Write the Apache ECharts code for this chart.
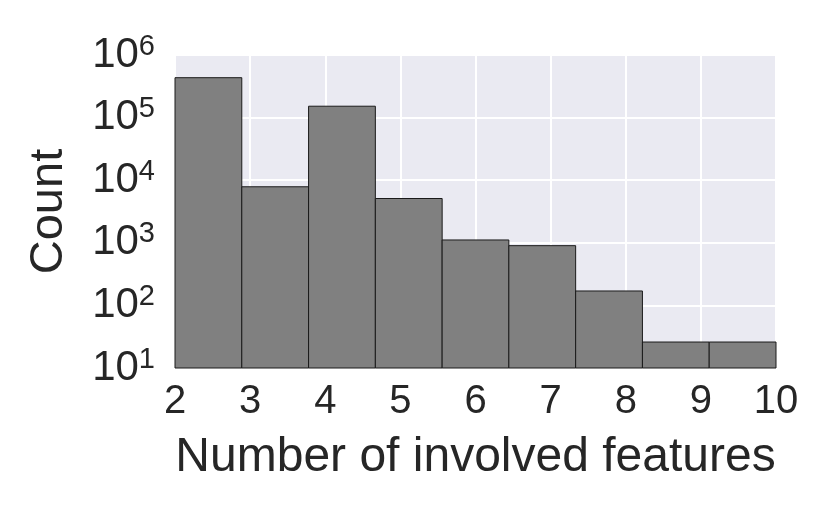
<!DOCTYPE html>
<html>
<head>
<meta charset="utf-8">
<script src="https://cdn.jsdelivr.net/npm/echarts@6/dist/echarts.min.js"></script>
<style>
  html, body { margin: 0; padding: 0; background: #fff; }
  #main { width: 830px; height: 513px; }
</style>
</head>
<body>
<div id="main"></div>
<script>
// histogram bins (9 bins between 2 and 10)
var binEdges = [2, 2.889, 3.778, 4.667, 5.556, 6.444, 7.333, 8.222, 9.111, 10];
var counts = [434000, 7850, 152000, 5100, 1110, 900, 170, 26, 26];
var xTicks = [2, 3, 4, 5, 6, 7, 8, 9, 10];
var yTicks = [10, 100, 1000, 10000, 100000, 1000000];

var textColor = "#262626";
var bars = counts.map(function (c, i) {
  return [binEdges[i], binEdges[i + 1], c];
});

var myChart = echarts.init(document.getElementById("main"));
myChart.setOption({
  animation: false,
  grid: { left: 175, right: 54, top: 55, bottom: 145, show: true, backgroundColor: "#EAEAF2", borderWidth: 0 },
  xAxis: {
    type: "value",
    min: xTicks[0],
    max: xTicks[xTicks.length - 1],
    interval: 1,
    name: "Number of involved features",
    nameLocation: "middle",
    nameGap: 66,
    nameTextStyle: { fontSize: 48, color: textColor, fontFamily: "Liberation Sans" },
    axisLine: { show: false },
    axisTick: { show: false },
    axisLabel: { fontSize: 40, color: textColor, fontFamily: "Liberation Sans", margin: 14 },
    splitLine: { show: true, lineStyle: { color: "#fff", width: 2 } }
  },
  yAxis: {
    type: "log",
    logBase: 10,
    min: yTicks[0],
    max: yTicks[yTicks.length - 1],
    name: "Count",
    nameLocation: "middle",
    nameRotate: 90,
    nameGap: 102,
    nameTextStyle: { fontSize: 47, color: textColor, fontFamily: "Liberation Sans" },
    axisLine: { show: false },
    axisTick: { show: false },
    axisLabel: {
      margin: 20,
      formatter: function (v) {
        return "{a|10}{b|" + Math.round(Math.log10(v)) + "}";
      },
      rich: {
        a: { fontSize: 42, color: textColor, fontFamily: "Liberation Sans", lineHeight: 46 },
        b: { fontSize: 29, color: textColor, fontFamily: "Liberation Sans", verticalAlign: "top", lineHeight: 46, padding: [0, 0, 15, 0] }
      }
    },
    splitLine: { show: true, lineStyle: { color: "#fff", width: 2 } }
  },
  series: [{
    type: "custom",
    data: bars,
    encode: { x: [0, 1], y: 2 },
    renderItem: function (params, api) {
      var p0 = api.coord([api.value(0), api.value(2)]);
      var p1 = api.coord([api.value(1), yTicks[0]]);
      return {
        type: "rect",
        shape: { x: p0[0], y: p0[1], width: p1[0] - p0[0], height: p1[1] - p0[1] },
        style: { fill: "#808080", stroke: "#1a1a1a", lineWidth: 1 }
      };
    }
  }]
});
</script>
</body>
</html>
